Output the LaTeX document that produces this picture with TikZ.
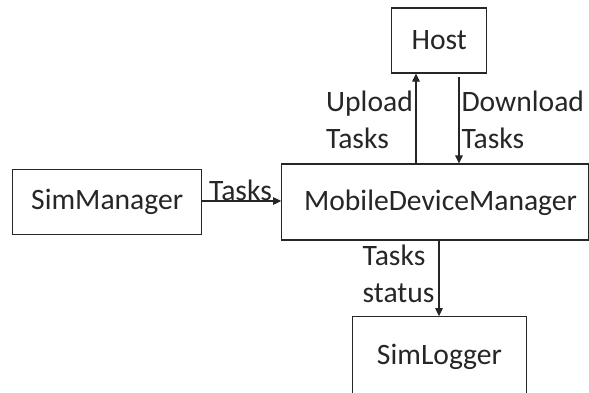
\documentclass[tikz,border=0pt]{standalone}
\usepackage{fontspec}
\setmainfont{Carlito}
\usetikzlibrary{arrows.meta}
\begin{document}
\begin{tikzpicture}[x=1pt,y=-1pt,
  box/.style={draw=black!85,line width=1.1pt,rectangle,inner sep=0pt,text=black!85,
    font=\fontsize{29.6}{36.8}\selectfont},
  lbl/.style={inner sep=0pt,align=left,text=black!85,font=\fontsize{29.6}{36.8}\selectfont},
  arr/.style={draw=black!85,line width=1.1pt,-{Triangle[length=8pt,width=7.5pt]}}]
\useasboundingbox (0,0) rectangle (589,392);
\node[box,minimum width=95pt,minimum height=65pt] (host) at (439.2,40.5) {Host};
\node[box,minimum width=306.8pt,minimum height=76pt] (mdm) at (435.1,202) {};
\node[lbl] (mdmtext) at (440.5,203) {MobileDeviceManager};
\node[box,minimum width=189pt,minimum height=65pt] (simmgr) at (107.2,201.8) {SimManager};
\node[box,minimum width=174pt,minimum height=80pt] (simlog) at (439.5,356.7) {SimLogger};
\coordinate (upx) at (416,0);
\coordinate (dnx) at (459,0);
\coordinate (stx) at (439,0);
\draw[arr] (simmgr.east |- 0,201) -- (mdm.west |- 0,201);
\draw[arr] (mdm.north -| upx) -- (host.south -| upx);
\draw[arr] ([yshift=-3pt]host.south -| dnx) -- (mdm.north -| dnx);
\draw[arr] (mdm.south -| stx) -- (simlog.north -| stx);
\node[lbl,anchor=west] (uplbl) at (326,120) {Upload\\Tasks};
\node[lbl,anchor=west] (dnlbl) at (461.3,120) {Download\\Tasks};
\node[lbl,anchor=west] (tklbl) at (209,190) {Tasks};
\node[lbl,anchor=west] (stlbl) at (362.5,274) {Tasks\\status};
\end{tikzpicture}
\end{document}
